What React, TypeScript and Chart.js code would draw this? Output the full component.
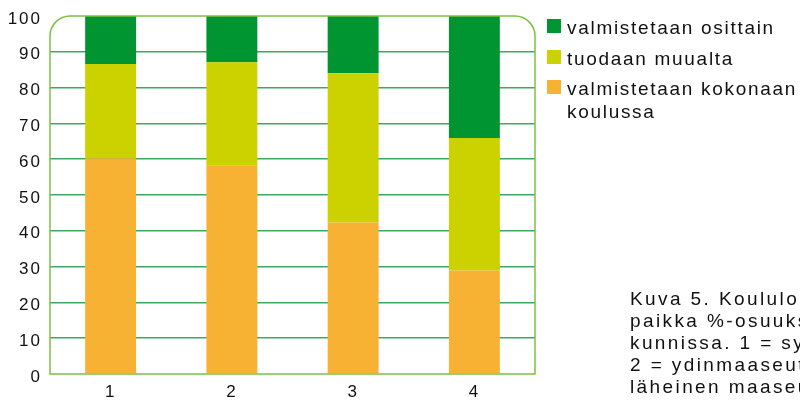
import React, { useEffect, useRef } from "react";
import { Chart, registerables } from "chart.js";

Chart.register(...registerables);

const categories = ["1", "2", "3", "4"];
const kokonaan = [60.3, 58.2, 42.3, 28.9];
const muualta = [26.3, 28.9, 41.7, 37.0];
const osittain = [13.4, 12.9, 16.0, 34.1];
const yTicks = [0, 10, 20, 30, 40, 50, 60, 70, 80, 90, 100];

const legendItems = [
  { lines: ["valmistetaan osittain"], color: "#009530" },
  { lines: ["tuodaan muualta"], color: "#CCD100" },
  { lines: ["valmistetaan kokonaan", "koulussa"], color: "#F7B133" },
];
const captionLines = [
  "Kuva 5. Koululounaan valmistus-",
  "paikka %-osuuksina kuntaryhmien",
  "kunnissa. 1 = syrjäinen maaseutu,",
  "2 = ydinmaaseutu, 3 = kaupunkien",
  "läheinen maaseutu, 4 = kaupungit.",
];

const FONT = "'Liberation Sans', Arial, sans-serif";

const decorPlugin = {
  id: "decor",
  beforeDraw(chart: any) {
    chart.ctx.letterSpacing = "2px";
  },
  afterDraw(chart: any) {
    const { ctx, chartArea } = chart;
    const { left, right, top, bottom } = chartArea;
    const r = 20;
    ctx.save();
    ctx.strokeStyle = "#7DC142";
    ctx.lineWidth = 1.5;
    ctx.beginPath();
    ctx.moveTo(left, bottom);
    ctx.lineTo(left, top + r);
    ctx.arcTo(left, top, left + r, top, r);
    ctx.lineTo(right - r, top);
    ctx.arcTo(right, top, right, top + r, r);
    ctx.lineTo(right, bottom);
    ctx.closePath();
    ctx.stroke();

    // legend
    ctx.letterSpacing = "1.7px";
    ctx.font = `19px ${FONT}`;
    ctx.textBaseline = "alphabetic";
    ctx.textAlign = "left";
    const lx = right + 12;
    const tops = [19, 50, 80];
    legendItems.forEach((it, i) => {
      const y = tops[i];
      ctx.fillStyle = it.color;
      ctx.fillRect(lx, y, 14, 14);
      ctx.fillStyle = "#111";
      it.lines.forEach((ln, j) => {
        ctx.fillText(ln, lx + 20, y + 15 + j * 23);
      });
    });

    // caption
    ctx.letterSpacing = "2.4px";
    ctx.font = `19px ${FONT}`;
    ctx.fillStyle = "#111";
    captionLines.forEach((ln, i) => {
      ctx.fillText(ln, 630, 305 + i * 22);
    });
    ctx.restore();
  },
};

export default function App() {
  const ref = useRef<HTMLCanvasElement>(null);
  useEffect(() => {
    if (!ref.current) return;
    const chart = new Chart(ref.current, {
      type: "bar",
      data: {
        labels: categories,
        datasets: [
          { label: "valmistetaan kokonaan koulussa", data: kokonaan, backgroundColor: "#F7B133" },
          { label: "tuodaan muualta", data: muualta, backgroundColor: "#CCD100" },
          { label: "valmistetaan osittain", data: osittain, backgroundColor: "#009530" },
        ],
      },
      options: {
        responsive: false,
        animation: false,
        layout: { padding: { top: 16, right: 265, left: 0, bottom: 0 } },
        datasets: { bar: { barPercentage: 0.42, categoryPercentage: 1 } },
        plugins: { legend: { display: false }, tooltip: { enabled: false } },
        scales: {
          x: {
            stacked: true,
            grid: { display: false, drawTicks: false },
            border: { display: false },
            ticks: { color: "#111", font: { family: FONT, size: 17 }, padding: 8 },
            afterFit: (s: any) => { s.height = 26; s.paddingLeft = 0; s.paddingRight = 0; },
          },
          y: {
            stacked: true,
            min: 0,
            max: 100,
            afterBuildTicks: (s: any) => { s.ticks = yTicks.map((v) => ({ value: v })); },
            grid: {
              drawTicks: false,
              lineWidth: 1.5,
              color: (c: any) => (c.tick && (c.tick.value === 0 || c.tick.value === 100) ? "rgba(0,0,0,0)" : "#3FA862"),
            },
            border: { display: false },
            ticks: { color: "#111", font: { family: FONT, size: 17 }, padding: 8, labelOffset: 3 },
            afterFit: (s: any) => { s.width = 50; s.paddingTop = 0; s.paddingBottom = 0; },
          },
        },
      },
      plugins: [decorPlugin],
    });
    return () => chart.destroy();
  }, []);
  return (
    <div style={{ position: "fixed", left: 0, top: 0, width: 800, height: 400, overflow: "hidden", background: "#fff" }}>
      <canvas ref={ref} width={800} height={400} style={{ display: "block" }} />
    </div>
  );
}
